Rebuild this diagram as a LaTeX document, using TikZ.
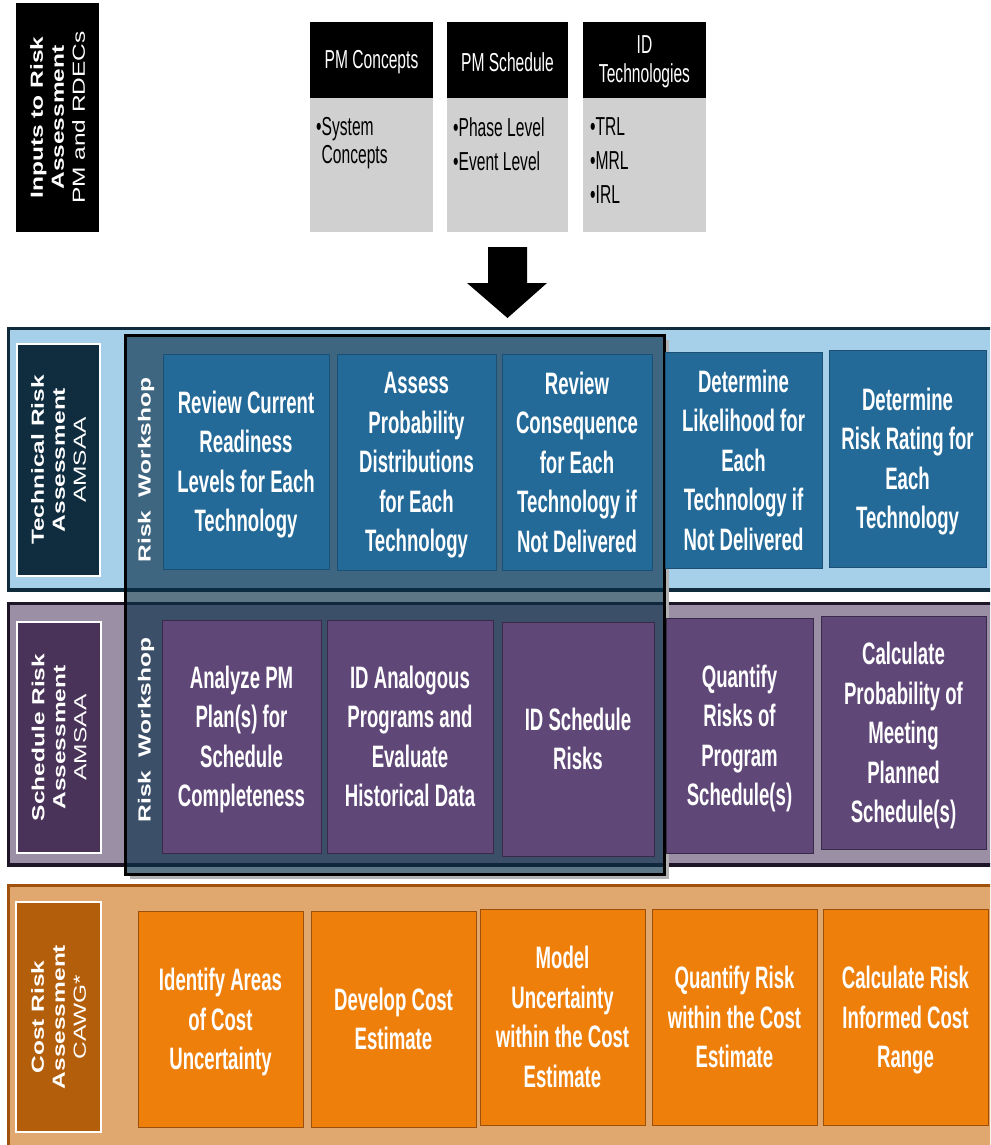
\documentclass[tikz,border=0pt]{standalone}
\usepackage{fontspec}
\setmainfont{Liberation Sans}
\newfontfamily\narrowfont[FakeStretch=0.6]{Liberation Sans}
\newfontfamily\widefont[FakeStretch=1.4]{Liberation Sans}
\definecolor{techband}{HTML}{A6CFE9}
\definecolor{techborder}{HTML}{0F2B3C}
\definecolor{techlabel}{HTML}{0F2D3F}
\definecolor{techbox}{HTML}{236A99}
\definecolor{techboxline}{HTML}{1B4F73}
\definecolor{schedband}{HTML}{9B8FA6}
\definecolor{schedborder}{HTML}{1E1626}
\definecolor{schedlabel}{HTML}{4A3358}
\definecolor{schedbox}{HTML}{5F4777}
\definecolor{schedboxline}{HTML}{3A2A4A}
\definecolor{costband}{HTML}{E0A86E}
\definecolor{costborder}{HTML}{A0520C}
\definecolor{costlabel}{HTML}{B35E0A}
\definecolor{costbox}{HTML}{EF7F0B}
\definecolor{costboxline}{HTML}{9C4F08}
\definecolor{topgray}{HTML}{D0D0D0}
\definecolor{wsfill}{HTML}{082F48}
\begin{document}
\begin{tikzpicture}[x=1pt,y=-1pt,
  lbl/.style={rotate=90, align=center, text=white, inner sep=0pt,
    font=\widefont\fontsize{17.5}{21}\selectfont},
  lblbox/.style={draw=white, line width=1.2pt, inner sep=0pt},
  proc/.style={draw, line width=1pt, align=center, text=white, inner sep=1pt,
    text depth=-2pt,
    font=\narrowfont\bfseries\fontsize{31}{39.5}\selectfont},
  techproc/.style={proc, fill=techbox, draw=techboxline},
  schedproc/.style={proc, fill=schedbox, draw=schedboxline},
  costproc/.style={proc, fill=costbox, draw=costboxline},
  tophead/.style={fill=black, inner sep=0pt, minimum height=76pt},
  topbody/.style={fill=topgray, inner sep=0pt, minimum height=134pt},
  toptext/.style={align=center, text=white, inner sep=0pt,
    font=\narrowfont\fontsize{26}{28.5}\selectfont},
  bodytext/.style={align=left, text=black, inner sep=0pt, anchor=north west,
    font=\narrowfont\fontsize{26}{28.5}\selectfont}
]
\useasboundingbox (0,0) rectangle (990,1145);
\clip (0,0) rectangle (990,1145);
\fill[white] (0,0) rectangle (990,1145);

% ---- Inputs ----
\node[fill=black, inner sep=0pt, minimum width=83pt, minimum height=229pt] (inbox) at (57.5,117.5) {};
\node[lbl] (intext) at (inbox.center) {{\bfseries Inputs to Risk}\\{\bfseries Assessment}\\PM and RDECs};

% top boxes
\node[topbody, minimum width=123pt] (b1) at (371.5,165) {};
\node[tophead, minimum width=123pt] (h1) at (371.5,60) {};
\node[toptext] (h1t) at (371.5,62) {PM Concepts};
\node[bodytext] (b1t) at (316,117) {\textbullet System\\\hphantom{\textbullet}Concepts};

\node[topbody, minimum width=121pt] (b2) at (507.5,165) {};
\node[tophead, minimum width=121pt] (h2) at (507.5,60) {};
\node[toptext] (h2t) at (507.5,62) {PM Schedule};
\node[bodytext] (b2t) at (453,117) {\textbullet Phase Level\\[5.5pt]\textbullet Event Level};

\node[topbody, minimum width=123pt] (b3) at (644.5,165) {};
\node[tophead, minimum width=123pt] (h3) at (644.5,60) {};
\node[toptext] (h3t) at (644.5,62) {ID\\Technologies};
\node[bodytext] (b3t) at (590,117) {\textbullet TRL\\[5.5pt]\textbullet MRL\\[5.5pt]\textbullet IRL};

% big arrow
\fill[black] (488,247) -- (527,247) -- (527,283) -- (547,283) -- (507.5,318) -- (467,283) -- (488,283) -- cycle;

% ---- bands ----
\draw[fill=techband, draw=techborder, line width=3.5pt] (8.5,328.5) rectangle (1010,590);
\draw[fill=schedband, draw=schedborder, line width=3.5pt] (8.5,603.5) rectangle (1010,865);
\draw[fill=costband, draw=costborder, line width=3.5pt] (8.5,885.5) rectangle (1010,1170);

% labels
\node[lblbox, fill=techlabel, minimum width=83pt, minimum height=232pt] (tlab) at (58.5,460) {};
\node[lbl] (tlabt) at (tlab.center) {{\bfseries Technical Risk}\\{\bfseries Assessment}\\AMSAA};
\node[lblbox, fill=schedlabel, minimum width=84pt, minimum height=231pt] (slab) at (59,737.5) {};
\node[lbl] (slabt) at (slab.center) {{\bfseries Schedule Risk}\\{\bfseries Assessment}\\AMSAA};
\node[lblbox, fill=costlabel, minimum width=85pt, minimum height=230pt] (clab) at (58.5,1017) {};
\node[lbl] (clabt) at (clab.center) {{\bfseries Cost Risk}\\{\bfseries Assessment}\\CAWG*};

% ---- risk workshop ----
\fill[black!30] (664,340) rectangle (669,879);
\fill[black!30] (130,874) rectangle (669,879);
\fill[wsfill, opacity=0.65] (125,335) rectangle (664,874);
\draw[black, line width=3pt] (125,335) rectangle (664,874);
\node[lbl, font=\widefont\bfseries\fontsize{17.5}{21}\selectfont] (rw1) at (146,470) {Risk\ \ Workshop};
\node[lbl, font=\widefont\bfseries\fontsize{17.5}{21}\selectfont] (rw2) at (146,730) {Risk\ \ Workshop};

% ---- technical boxes ----
\node[techproc, minimum width=166pt, minimum height=215pt] (t1) at (246,461.5) {Review Current\\Readiness\\Levels for Each\\Technology};
\node[techproc, minimum width=159pt, minimum height=216pt] (t2) at (416.5,462) {Assess\\Probability\\Distributions\\for Each\\Technology};
\node[techproc, minimum width=150pt, minimum height=216pt] (t3) at (577,462) {Review\\Consequence\\for Each\\Technology if\\Not Delivered};
\node[techproc, minimum width=157pt, minimum height=216pt] (t4) at (743.5,460) {Determine\\Likelihood for\\Each\\Technology if\\Not Delivered};
\node[techproc, minimum width=157pt, minimum height=217pt] (t5) at (907.5,458.5) {Determine\\Risk Rating for\\Each\\Technology};

% ---- schedule boxes ----
\node[schedproc, minimum width=159pt, minimum height=233pt] (s1) at (241.5,736.5) {Analyze PM\\Plan(s) for\\Schedule\\Completeness};
\node[schedproc, minimum width=166pt, minimum height=233pt] (s2) at (410,736.5) {ID Analogous\\Programs and\\Evaluate\\Historical Data};
\node[schedproc, minimum width=152pt, minimum height=234pt] (s3) at (578,739) {ID Schedule\\Risks};
\node[schedproc, minimum width=147pt, minimum height=235pt] (s4) at (739.5,735.5) {Quantify\\Risks of\\Program\\Schedule(s)};
\node[schedproc, minimum width=165pt, minimum height=233pt] (s5) at (903.5,732.5) {Calculate\\Probability of\\Meeting\\Planned\\Schedule(s)};

% ---- cost boxes ----
\node[costproc, minimum width=165pt, minimum height=216pt] (c1) at (220.5,1019) {Identify Areas\\of Cost\\Uncertainty};
\node[costproc, minimum width=165pt, minimum height=216pt] (c2) at (393.5,1019) {Develop Cost\\Estimate};
\node[costproc, minimum width=165pt, minimum height=216pt] (c3) at (562.5,1017) {Model\\Uncertainty\\within the Cost\\Estimate};
\node[costproc, minimum width=165pt, minimum height=216pt] (c4) at (734.5,1017) {Quantify Risk\\within the Cost\\Estimate};
\node[costproc, minimum width=165pt, minimum height=216pt] (c5) at (905.5,1017) {Calculate Risk\\Informed Cost\\Range};
\end{tikzpicture}
\end{document}
